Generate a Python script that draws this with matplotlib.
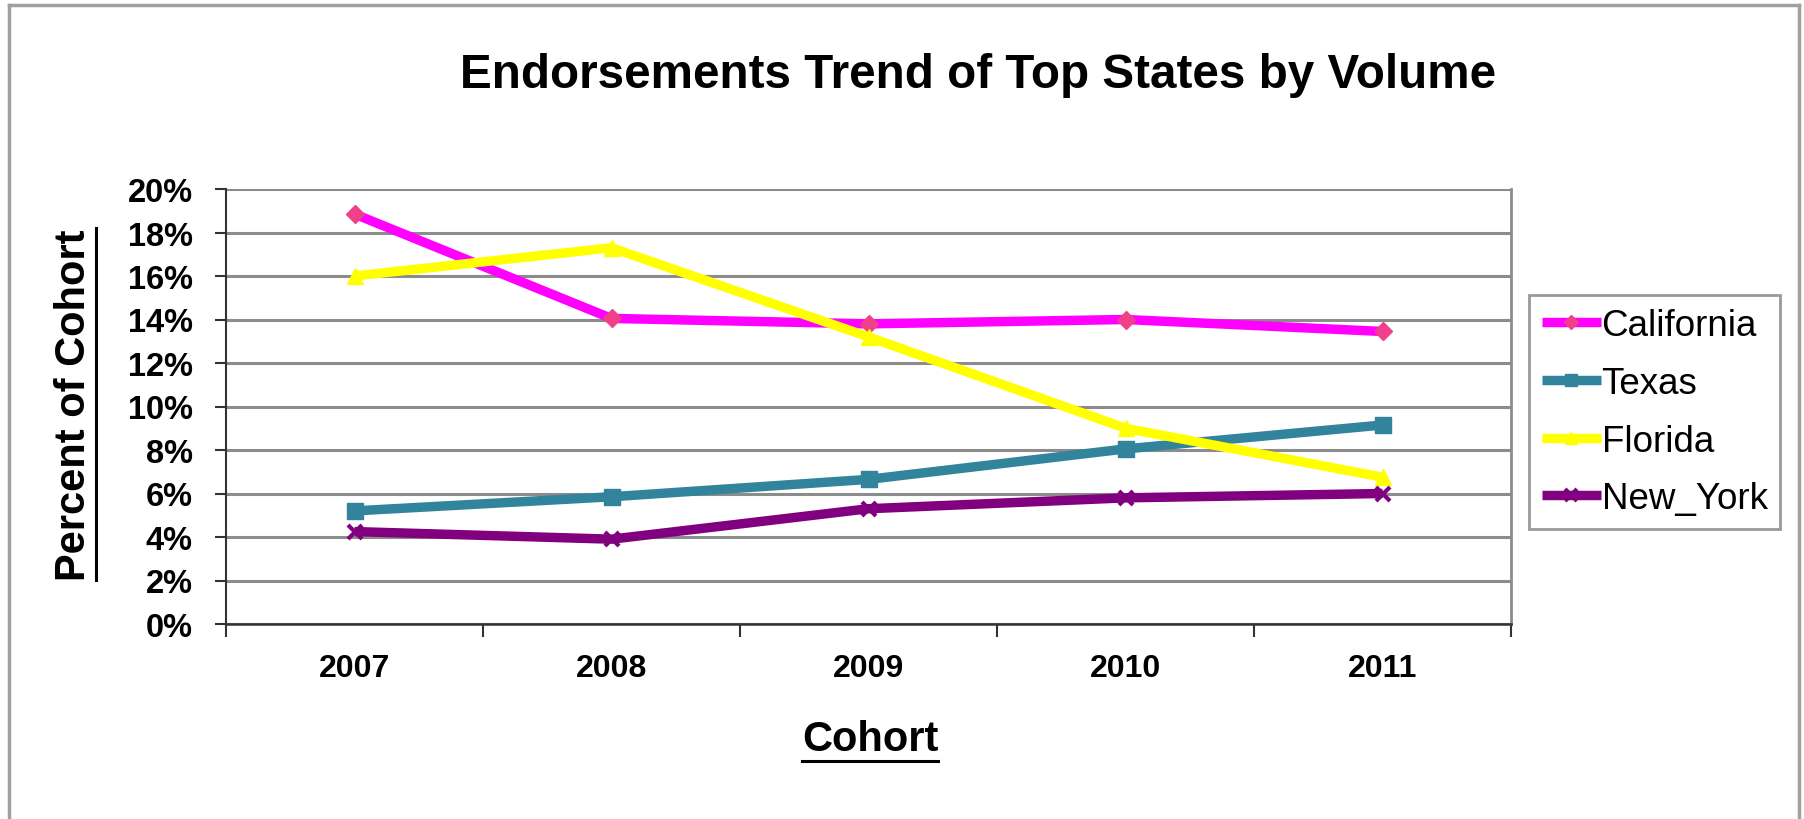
import matplotlib
matplotlib.use("Agg")
import matplotlib.pyplot as plt
from matplotlib.lines import Line2D
from matplotlib.ticker import FixedLocator, FuncFormatter

# Share of each cohort (percent) for the top states by volume
cohorts = ["2007", "2008", "2009", "2010", "2011"]
california = [18.85, 14.05, 13.8, 14.0, 13.45]
texas = [5.2, 5.85, 6.65, 8.05, 9.15]
florida = [16.0, 17.3, 13.2, 9.0, 6.75]
new_york = [4.25, 3.9, 5.3, 5.8, 6.0]
y_ticks = [0, 2, 4, 6, 8, 10, 12, 14, 16, 18, 20]

series = [
    ("California", california, "#FF00FF", "D", "#F0408A", 9),
    ("Texas", texas, "#31849B", "s", "#31849B", 11),
    ("Florida", florida, "#FFFF00", "^", "#FFFF00", 11),
    ("New_York", new_york, "#800080", "x", "#800080", 10),
]

plt.rcParams["font.family"] = ["Liberation Sans", "DejaVu Sans"]

W, H = 1804, 820
fig = plt.figure(figsize=(W / 100, H / 100), dpi=100)
fig.patch.set_facecolor("white")

# outer chart frame (open at the bottom)
frame_kw = dict(color="#A0A0A0", lw=2.5, transform=fig.transFigure)
fig.add_artist(Line2D([9 / W, 9 / W], [0, 1 - 6 / H], **frame_kw))
fig.add_artist(Line2D([9 / W, 1799 / W], [1 - 6 / H, 1 - 6 / H], **frame_kw))
fig.add_artist(Line2D([1799 / W, 1799 / W], [0, 1 - 6 / H], **frame_kw))

ax = fig.add_axes([226 / W, 1 - 625 / H, (1511 - 226) / W, (625 - 190) / H])
x = list(range(len(cohorts)))

for name, vals, col, mk, mcol, ms in series:
    ax.plot(x, vals, color=col, lw=6.8, marker=mk, markersize=ms,
            markerfacecolor=mcol, markeredgecolor=mcol,
            markeredgewidth=3 if mk == "x" else 1, label=name,
            solid_joinstyle="round", solid_capstyle="butt", zorder=3)

ax.set_xlim(-0.5, len(cohorts) - 0.5)
ax.set_ylim(0, 20)

# horizontal gridlines
ax.yaxis.set_major_locator(FixedLocator(y_ticks))
ax.yaxis.set_major_formatter(FuncFormatter(lambda v, p: f"{v:.0f}%"))
ax.grid(axis="y", color="#8C8C8C", lw=2.2, zorder=0)
ax.set_axisbelow(True)

# category boundaries as major ticks, labels centred between them
ax.xaxis.set_major_locator(FixedLocator([i - 0.5 for i in range(len(cohorts) + 1)]))
ax.xaxis.set_major_formatter(FuncFormatter(lambda v, p: ""))
ax.xaxis.set_minor_locator(FixedLocator(x))
ax.set_xticklabels(cohorts, minor=True)
ax.tick_params(axis="x", which="major", length=9, width=1.5, color="#333333")
ax.tick_params(axis="x", which="minor", length=0, pad=21, labelsize=23)
ax.tick_params(axis="y", which="major", length=8, width=1.5, color="#333333",
               pad=16, labelsize=23.5)
for lab in ax.get_xticklabels(minor=True) + ax.get_yticklabels():
    lab.set_fontweight("bold")

ax.spines["top"].set_visible(False)
ax.spines["left"].set_color("#333333")
ax.spines["left"].set_linewidth(1.5)
ax.spines["bottom"].set_color("#333333")
ax.spines["bottom"].set_linewidth(1.8)
ax.spines["right"].set_color("#8C8C8C")
ax.spines["right"].set_linewidth(2)

# legend
leg = ax.legend(loc="upper left", bbox_to_anchor=(1529 / W, 1 - 296 / H),
                bbox_transform=fig.transFigure, fontsize=26.5, frameon=True,
                fancybox=False, edgecolor="#808080", handlelength=1.6,
                handletextpad=0.02, labelspacing=0.62, borderpad=0.35,
                borderaxespad=0, markerscale=0.8)
leg.get_frame().set_linewidth(2)

# title and axis labels
fig.text(978 / W, 1 - 75 / H, "Endorsements Trend of Top States by Volume",
         ha="center", va="center", fontsize=34.3, fontweight="bold")
xlab = fig.text(870 / W, 1 - 740 / H, "Cohort", ha="center", va="center",
                fontsize=30, fontweight="bold")
ylab = fig.text(74 / W, 1 - 405 / H, "Percent of Cohort", ha="center",
                va="center", rotation=90, fontsize=30, fontweight="bold")

# underline the axis titles
fig.canvas.draw()
r = fig.canvas.get_renderer()
bx = xlab.get_window_extent(r)
uy = bx.y0 - 2
fig.add_artist(Line2D([bx.x0 / W, bx.x1 / W], [uy / H, uy / H], color="black",
                      lw=2.2, transform=fig.transFigure))
by = ylab.get_window_extent(r)
ux = by.x1 + 2
fig.add_artist(Line2D([ux / W, ux / W], [by.y0 / H, by.y1 / H], color="black",
                      lw=2.2, transform=fig.transFigure))

fig.savefig("out.png", dpi=100, facecolor="white")
